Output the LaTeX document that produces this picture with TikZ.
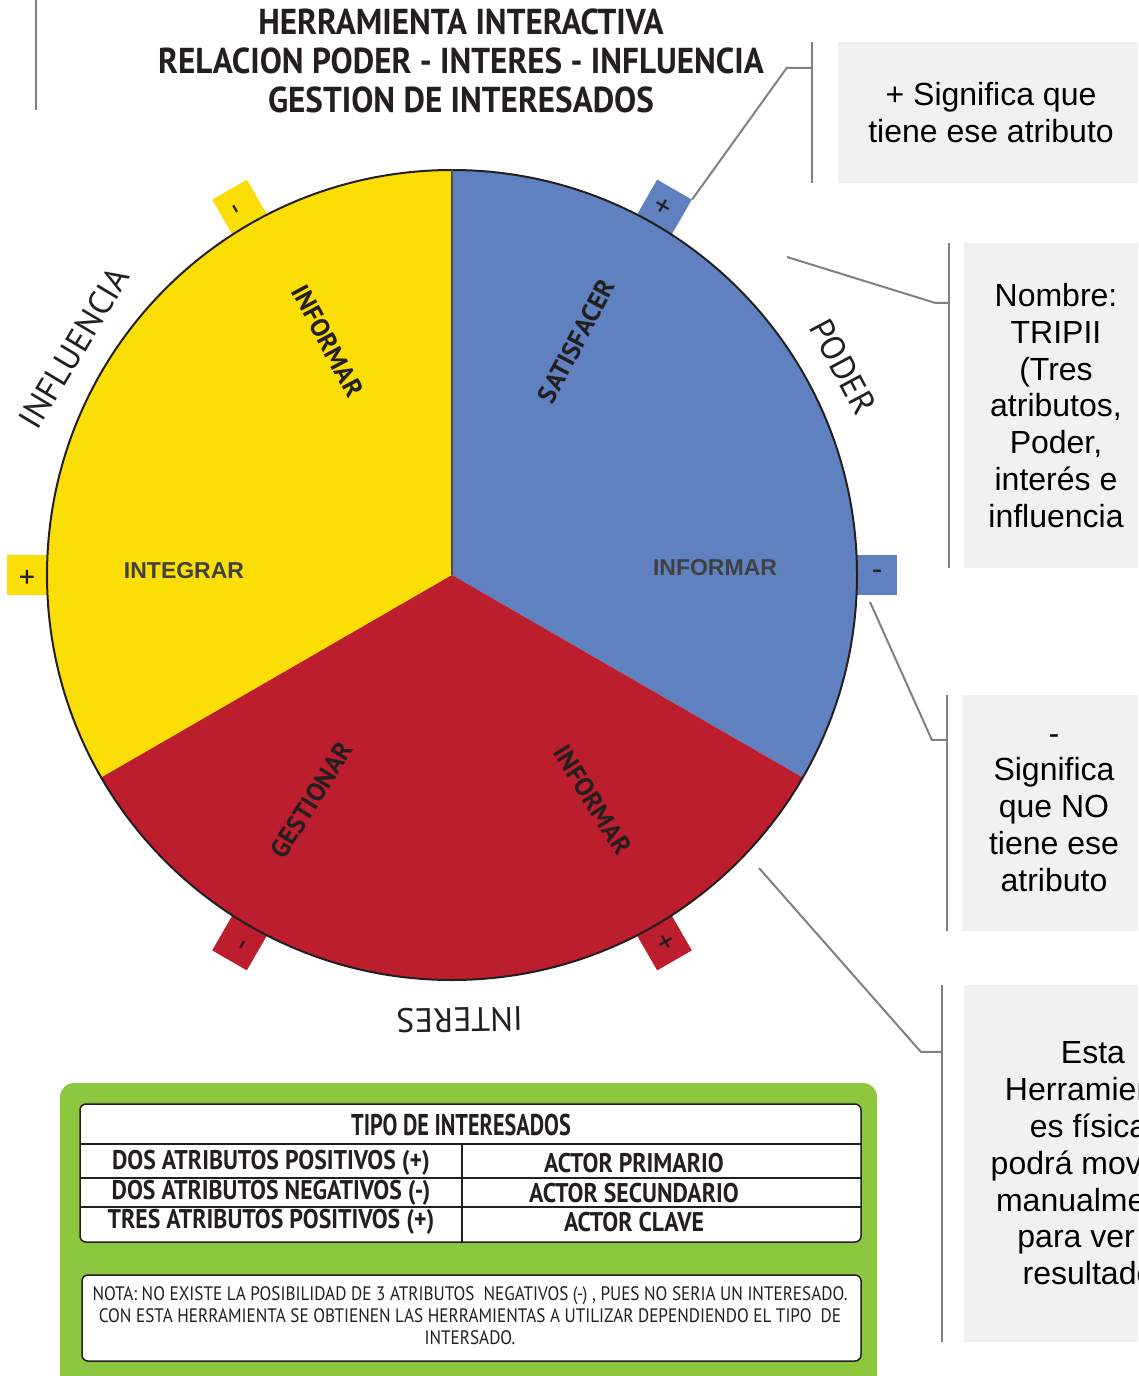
\documentclass[tikz,border=0pt]{standalone}
\usepackage{fontspec}
\setmainfont{Liberation Sans}
\newfontfamily\myriad{PT Sans}
\newfontfamily\titulo[FakeStretch=0.92]{PT Sans}
\newfontfamily\tabla[FakeStretch=0.88]{PT Sans}
\newfontfamily\tablah[FakeStretch=0.74]{PT Sans}
\usetikzlibrary{calc}
\definecolor{amarillo}{RGB}{251,222,5}
\definecolor{azul}{RGB}{96,129,192}
\definecolor{rojo}{RGB}{189,30,45}
\definecolor{verde}{RGB}{141,198,63}
\definecolor{tinta}{RGB}{35,31,32}
\definecolor{fondo}{RGB}{241,241,241}
\definecolor{gris}{RGB}{128,128,128}

\begin{document}
\begin{tikzpicture}[x=1pt,y=1pt,
  pestana/.style={minimum size=40pt,inner sep=0pt,font=\myriad\fontsize{32}{32}\selectfont,text=tinta},
  eje/.style={font=\myriad\fontsize{34}{34}\selectfont,text=tinta},
  accion/.style={font=\myriad\bfseries\fontsize{26}{26}\selectfont,text=tinta},
  accionb/.style={font=\bfseries\fontsize{23}{23}\selectfont,text=black!75},
  nota/.style={fill=fondo,inner sep=0pt,align=center,font=\fontsize{32}{36.8}\selectfont},
  guia/.style={draw=gris,line width=2pt},
  fila/.style={font=\tabla\bfseries\fontsize{27}{27}\selectfont,text=tinta}]
\useasboundingbox (0,0) rectangle (1138,-1376);
\clip (0,0) rectangle (1138,-1376);
\coordinate (C) at (452,-575);
% title
\node[font=\titulo\bfseries\fontsize{36}{39}\selectfont,text=tinta,align=center] (titulo) at (461,-61)
  {HERRAMIENTA INTERACTIVA\\RELACION PODER - INTERES - INFLUENCIA\\GESTION DE INTERESADOS};
\draw[guia] (36,0) -- (36,-110);
% tabs
\foreach \ang/\col/\sig/\nom in {60/azul/+/azmas,0/azul/-/azmen,120/amarillo/-/ammen,180/amarillo/+/ammas,240/rojo/-/romen,300/rojo/+/romas}
  \node[pestana,fill=\col,rotate=\ang] (\nom) at ($(C)+(\ang:425)$) {\sig};
% wheel
\fill[amarillo] (C) -- ($(C)+(90:405)$) arc[start angle=90,end angle=210,radius=405] -- cycle;
\fill[azul] (C) -- ($(C)+(-30:405)$) arc[start angle=-30,end angle=90,radius=405] -- cycle;
\fill[rojo] (C) -- ($(C)+(210:405)$) arc[start angle=210,end angle=330,radius=405] -- cycle;
\draw[tinta,line width=2pt] (C) circle[radius=405];
\draw[black!70,line width=1.5pt] (C) -- ++(90:405);
% attributes
\node[eje,rotate=-62] (poder) at ($(C)+(28:443)$) {PODER};
\node[eje,rotate=59] (influencia) at ($(C)+(149:441)$) {INFLUENCIA};
\node[eje,rotate=181] (interes) at ($(C)+(271:445)$) {INTERES};
% actions
\foreach \ang/\rot/\txt/\nom in {118/-62/INFORMAR/infam,62/62/SATISFACER/satis,238/58/GESTIONAR/gestion,302/-58/INFORMAR/inforo}
  \node[accion,rotate=\rot] (\nom) at ($(C)+(\ang:265)$) {\txt};
\node[accionb] (integrar) at (184,-571) {INTEGRAR};
\node[accionb] (infazul) at (715,-568) {INFORMAR};
% notes
\node[nota,minimum width=306,minimum height=141] (n1) at (991,-112.5) {+ Significa que\\tiene ese atributo};
\node[nota,minimum width=184,minimum height=325] (n2) at (1056,-405.5) {Nombre:\\TRIPII\\(Tres\\atributos,\\Poder,\\interés e\\influencia};
\node[nota,minimum width=184,minimum height=236] (n3) at (1054,-813) {-\\Significa\\que NO\\tiene ese\\atributo};
\node[nota,minimum width=258,minimum height=357] (n4) at (1093,-1163.5) {Esta\\Herramienta\\es física,\\podrá moverla\\manualmente\\para ver el\\resultado.};
\coordinate (p2) at (787,-257);
\coordinate (p3) at (870,-602);
\coordinate (p4) at (759,-868);
\draw[guia] ([xshift=-26pt]n1.north west) -- ([xshift=-26pt]n1.south west);
\draw[guia] ([xshift=-26pt,yshift=-26pt]n1.north west) -- ++(-25,0) -- (azmas.south east);
\draw[guia] ([xshift=-15pt]n2.north west) -- ([xshift=-15pt]n2.south west);
\draw[guia] ([xshift=-15pt,yshift=-60pt]n2.north west) -- ++(-14,0) -- (p2);
\draw[guia] ([xshift=-15pt]n3.north west) -- ([xshift=-15pt]n3.south west);
\draw[guia] ([xshift=-15pt,yshift=-45pt]n3.north west) -- ++(-15,0) -- (p3);
\draw[guia] ([xshift=-22pt]n4.north west) -- ([xshift=-22pt]n4.south west);
\draw[guia] ([xshift=-22pt,yshift=-67pt]n4.north west) -- ++(-21,0) -- (p4);
% legend
\fill[verde,rounded corners=14pt] (60,-1083) rectangle (877,-1410);
\draw[fill=white,draw=tinta,line width=1.5pt,rounded corners=6pt] (80,-1104) rectangle (861,-1242);
\draw[tinta,line width=1.5pt] (80,-1144) -- (861,-1144) (80,-1178) -- (861,-1178) (80,-1207) -- (861,-1207) (462,-1144) -- (462,-1242);
\node[fila,font=\tablah\bfseries\fontsize{30}{30}\selectfont] (tipo) at (461,-1125) {TIPO DE INTERESADOS};
\node[fila] (f1a) at (271,-1163) {DOS ATRIBUTOS POSITIVOS (+)};
\node[fila] (f1b) at (634,-1163) {ACTOR PRIMARIO};
\node[fila] (f2a) at (271,-1193) {DOS ATRIBUTOS NEGATIVOS (-)};
\node[fila] (f2b) at (634,-1193) {ACTOR SECUNDARIO};
\node[fila] (f3a) at (271,-1222) {TRES ATRIBUTOS POSITIVOS (+)};
\node[fila] (f3b) at (634,-1222) {ACTOR CLAVE};
\draw[fill=white,draw=tinta,line width=1.5pt,rounded corners=6pt] (82,-1275) rectangle (861,-1361);
\node[font=\tabla\fontsize{19.5}{22}\selectfont,text=tinta,align=center] (nota) at (470,-1316)
  {NOTA: NO EXISTE LA POSIBILIDAD DE 3 ATRIBUTOS \ NEGATIVOS (-) , PUES NO SERIA UN INTERESADO.\\
   CON ESTA HERRAMIENTA SE OBTIENEN LAS HERRAMIENTAS A UTILIZAR DEPENDIENDO EL TIPO \ DE\\INTERSADO.};
\end{tikzpicture}
\end{document}
